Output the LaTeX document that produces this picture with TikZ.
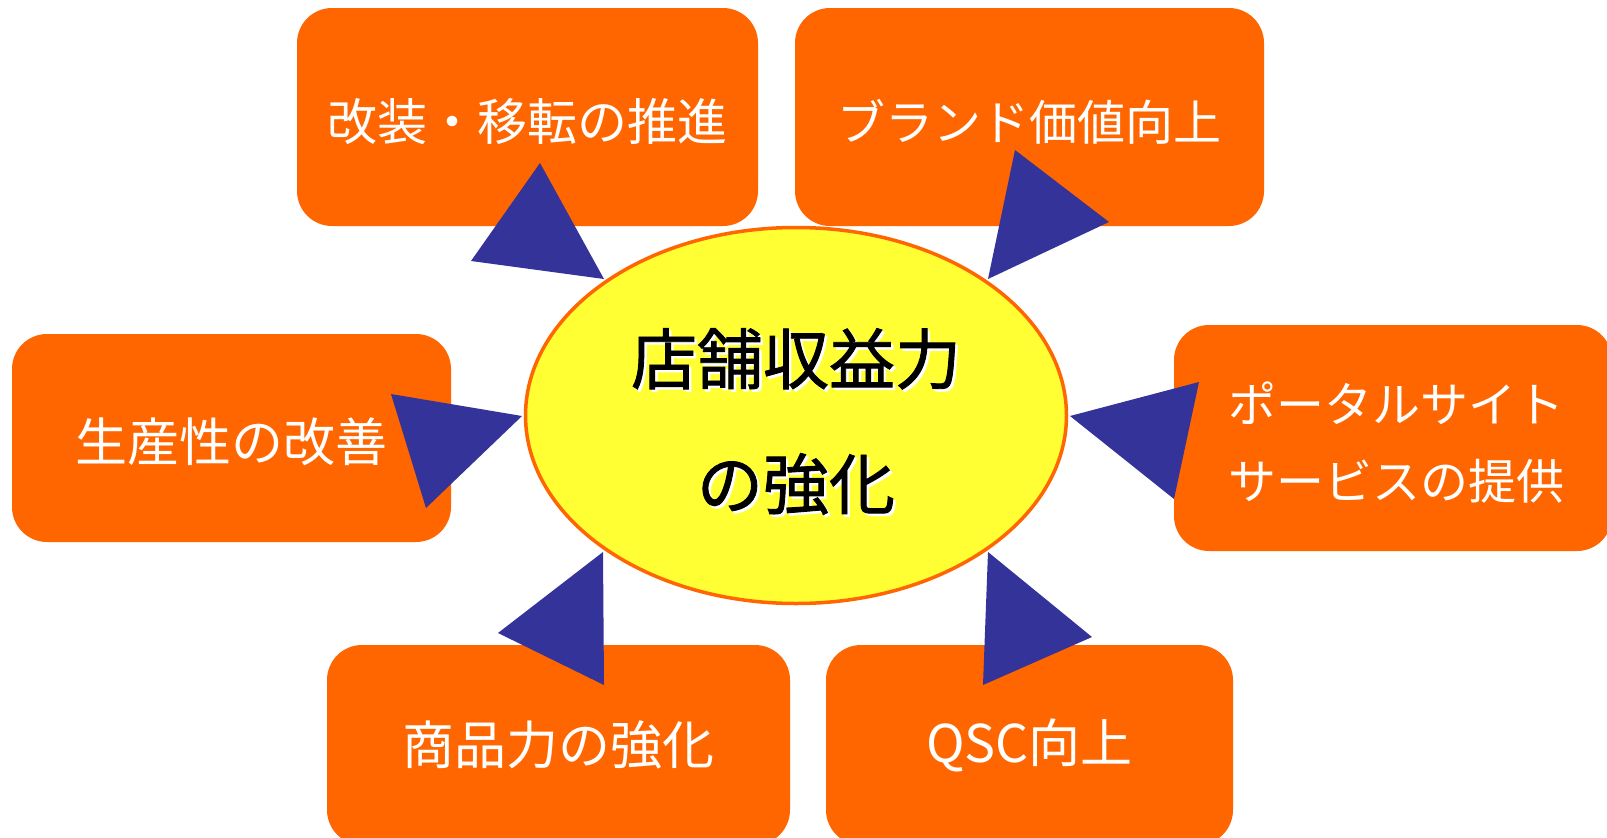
\documentclass[tikz,border=0pt]{standalone}
\usepackage{fontspec}
\usetikzlibrary{shapes.geometric}
\newfontfamily\jp{Noto Sans CJK JP}
\newfontfamily\jpb[FakeBold=1.3]{Noto Sans CJK JP}
\definecolor{orng}{HTML}{FF6600}
\definecolor{navy}{HTML}{333399}
\definecolor{ylw}{HTML}{FFFF33}
\begin{document}
\begin{tikzpicture}[x=1pt,y=-1pt,
  box/.style={fill=orng, rounded corners=35, inner sep=0},
  lbl/.style={text=white, align=center, inner sep=0},
  wedge/.style={fill=navy},
  hub/.style={ellipse, draw=orng, line width=3.5, fill=ylw, inner sep=0},
  hubtext/.style={align=center, font=\jpb\fontsize{66}{125}\selectfont}]
\useasboundingbox (0,0) rectangle (1607,838);
% boxes
\node[box, minimum width=461, minimum height=218] (b1) at (527.5,117) {};
\node[box, minimum width=469, minimum height=218] (b2) at (1029.5,117) {};
\node[box, minimum width=439, minimum height=208] (b3) at (231.5,438) {};
\node[box, minimum width=438, minimum height=226] (b4) at (1393,438) {};
\node[box, minimum width=463, minimum height=200] (b5) at (558.5,745) {};
\node[box, minimum width=407, minimum height=200] (b6) at (1029.5,745) {};
\node[lbl, font=\jp\fontsize{50}{60}\selectfont] (l1) at ([yshift=-5pt]b1.center) {改装・移転の推進};
\node[lbl, font=\jp\fontsize{48}{60}\selectfont] (l2) at ([yshift=-5pt]b2.center) {ブランド価値向上};
\node[lbl, font=\jp\fontsize{52}{60}\selectfont] (l3) at ([yshift=-4pt]b3.center) {生産性の改善};
\node[lbl, font=\jp\fontsize{48}{77}\selectfont] (l4) at ([xshift=3pt,yshift=-5pt]b4.center) {ポータルサイト\\サービスの提供};
\node[lbl, font=\jp\fontsize{52}{60}\selectfont] (l5) at (b5.center) {商品力の強化};
\node[lbl, font=\jp\fontsize{52}{60}\selectfont] (l6) at (b6.center) {QSC向上};
% wedges
\coordinate (t1a) at (540,163); \coordinate (t1b) at (471,261); \coordinate (t1c) at (604,279);
\coordinate (t2a) at (1015,150); \coordinate (t2b) at (1109,222); \coordinate (t2c) at (988,279);
\coordinate (t3a) at (391,394); \coordinate (t3b) at (522,416); \coordinate (t3c) at (426,508);
\coordinate (t4a) at (1070,416); \coordinate (t4b) at (1199,382); \coordinate (t4c) at (1174,499);
\coordinate (t5a) at (603,552); \coordinate (t5b) at (498,633); \coordinate (t5c) at (604,685);
\coordinate (t6a) at (988,552); \coordinate (t6b) at (1092,637); \coordinate (t6c) at (983,685);
\fill[wedge] (t1a) -- (t1b) -- (t1c) -- cycle;
\fill[wedge] (t2a) -- (t2b) -- (t2c) -- cycle;
\fill[wedge] (t3a) -- (t3b) -- (t3c) -- cycle;
\fill[wedge] (t4a) -- (t4b) -- (t4c) -- cycle;
\fill[wedge] (t5a) -- (t5b) -- (t5c) -- cycle;
\fill[wedge] (t6a) -- (t6b) -- (t6c) -- cycle;
% hub
\node[hub, minimum width=541, minimum height=376] (c) at (796,415.5) {};
\node[hubtext, text=white] (cs) at (798.5,424) {店舗収益力\\の強化};
\node[hubtext, text=black] (ct) at (796,421.5) {店舗収益力\\の強化};
\end{tikzpicture}
\end{document}
